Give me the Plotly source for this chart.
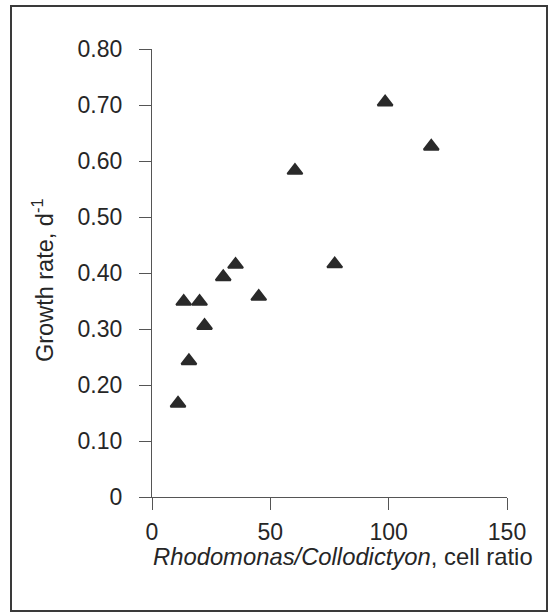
import plotly.graph_objects as go

# Data
cell_ratio = [98.5, 118.0, 60.4, 35.3, 77.2, 30.1, 45.1, 13.4, 20.1, 22.2, 15.6, 11.0]
growth_rate = [0.705, 0.626, 0.583, 0.415, 0.416, 0.393, 0.358, 0.349, 0.349, 0.306, 0.243, 0.167]

x_tick_vals = [0, 50, 100, 150]
x_tick_text = ["0", "50", "100", "150"]
y_tick_vals = [0, 0.1, 0.2, 0.3, 0.4, 0.5, 0.6, 0.7, 0.8]
y_tick_text = ["0", "0.10", "0.20", "0.30", "0.40", "0.50", "0.60", "0.70", "0.80"]

x_title = "<i>Rhodomonas/Collodictyon</i>, cell ratio"
y_title = "Growth rate, d<sup>-1</sup>"

W, H = 551, 614
L, R, T, B = 152, 44, 49, 117
PW, PH = W - L - R, H - T - B

def px_x(p):
    return (p - L) / PW

def px_y(p):
    return (H - B - p) / PH

FONT = "Liberation Sans, Arial, Helvetica, sans-serif"
TXT = "#262626"
AX = "#555555"

fig = go.Figure(
    go.Scatter(
        x=cell_ratio,
        y=growth_rate,
        mode="markers",
        marker=dict(symbol="triangle-up", size=13, color="#2a2a2a",
                    line=dict(color="#2a2a2a", width=2)),
        showlegend=False,
    )
)

fig.update_layout(
    width=W,
    height=H,
    margin=dict(l=L, r=R, t=T, b=B, autoexpand=False),
    paper_bgcolor="white",
    plot_bgcolor="white",
    font=dict(family=FONT, size=23, color=TXT),
    xaxis=dict(
        range=[0, 150],
        tickvals=x_tick_vals,
        ticktext=x_tick_text,
        ticks="outside",
        ticklen=12,
        tickwidth=1.3,
        tickcolor=AX,
        showline=True,
        linecolor=AX,
        linewidth=1.3,
        showgrid=False,
        zeroline=False,
        ticklabelstandoff=2,
        tickfont=dict(size=23, color=TXT),
        automargin=False,
    ),
    yaxis=dict(
        range=[0, 0.8],
        tickvals=y_tick_vals,
        ticktext=y_tick_text,
        ticks="outside",
        ticklen=12,
        tickwidth=1.3,
        tickcolor=AX,
        showline=True,
        linecolor=AX,
        linewidth=1.3,
        showgrid=False,
        zeroline=False,
        ticklabelstandoff=12,
        tickfont=dict(size=23, color=TXT),
        automargin=False,
    ),
    annotations=[
        dict(text=x_title, xref="paper", yref="paper",
             x=px_x(151), y=px_y(556), xanchor="left", yanchor="middle",
             showarrow=False, font=dict(size=23.8, color=TXT, family=FONT)),
        dict(text=y_title, xref="paper", yref="paper",
             x=px_x(43), y=px_y(280), xanchor="center", yanchor="middle",
             textangle=-90, showarrow=False,
             font=dict(size=23.5, color=TXT, family=FONT)),
    ],
    shapes=[
        dict(type="rect", xref="paper", yref="paper",
             x0=px_x(11), x1=px_x(547), y0=px_y(611), y1=px_y(6),
             line=dict(color="#3a3a3a", width=2), fillcolor="rgba(0,0,0,0)",
             layer="below"),
    ],
)

fig.write_html("out.html")
